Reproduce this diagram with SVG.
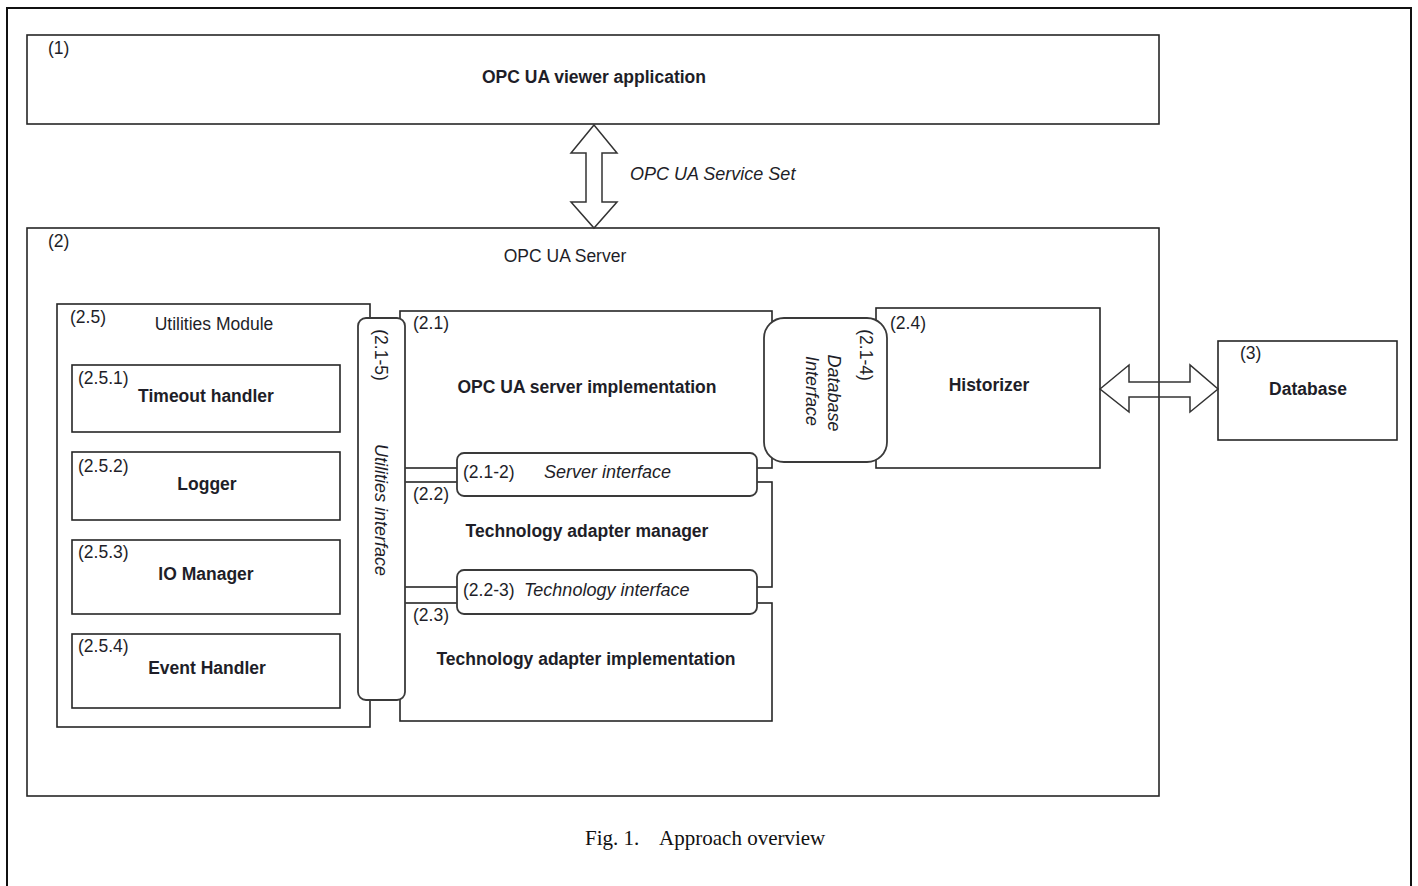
<svg xmlns="http://www.w3.org/2000/svg" width="1418" height="886" viewBox="0 0 1418 886">
  <style>
    .frame { fill: none; stroke: #111; stroke-width: 2; }
    .box { fill: #fff; stroke: #262626; stroke-width: 1.6; }
    .ifc { fill: #fff; stroke: #3a3a3a; stroke-width: 1.8; }
    .arrow { stroke: #333; stroke-width: 1.5; stroke-linejoin: miter; }
    text { font-family: "Liberation Sans", Arial, sans-serif; font-size: 17.5px; fill: #1e1e28; }
    .b { font-weight: bold; }
    .i { font-style: italic; font-size: 18px; }
    .c { text-anchor: middle; }
    .cap { font-family: "Liberation Serif", "Times New Roman", serif; font-size: 21px; fill: #111; }
  </style>

  <rect width="1418" height="886" fill="#fff"/>
  <!-- page frame -->
  <rect class="frame" x="7" y="8" width="1404" height="900"/>

  <!-- (1) viewer application -->
  <g id="viewer">
    <rect class="box" x="27" y="35" width="1132" height="89"/>
    <text x="48" y="54">(1)</text>
    <text class="b c" x="594" y="83">OPC UA viewer application</text>
  </g>

  <!-- (2) server container -->
  <g id="server">
    <rect class="box" x="27" y="228" width="1132" height="568"/>
    <text x="48" y="247">(2)</text>
    <text class="c" x="565" y="262">OPC UA Server</text>
  </g>

  <!-- (2.5) utilities module -->
  <g id="utilities">
    <rect class="box" x="57" y="304" width="313" height="423"/>
    <text x="70" y="323">(2.5)</text>
    <text class="c" x="214" y="330">Utilities Module</text>
  </g>
  <g id="timeout">
    <rect class="box" x="72" y="365" width="268" height="67"/>
    <text x="78" y="384">(2.5.1)</text>
    <text class="b c" x="206" y="402">Timeout handler</text>
  </g>
  <g id="logger">
    <rect class="box" x="72" y="452" width="268" height="68"/>
    <text x="78" y="472">(2.5.2)</text>
    <text class="b c" x="207" y="490">Logger</text>
  </g>
  <g id="io-manager">
    <rect class="box" x="72" y="540" width="268" height="74"/>
    <text x="78" y="558">(2.5.3)</text>
    <text class="b c" x="206" y="580">IO Manager</text>
  </g>
  <g id="event-handler">
    <rect class="box" x="72" y="634" width="268" height="74"/>
    <text x="78" y="652">(2.5.4)</text>
    <text class="b c" x="207" y="674">Event Handler</text>
  </g>

  <!-- (2.1) server implementation -->
  <g id="server-impl">
    <rect class="box" x="400" y="311" width="372" height="157"/>
    <text x="413" y="329">(2.1)</text>
    <text class="b c" x="587" y="393">OPC UA server implementation</text>
  </g>
  <!-- (2.2) adapter manager -->
  <g id="adapter-manager">
    <rect class="box" x="400" y="482" width="372" height="105"/>
    <text x="413" y="500">(2.2)</text>
    <text class="b c" x="587" y="537">Technology adapter manager</text>
  </g>
  <!-- (2.3) adapter implementation -->
  <g id="adapter-impl">
    <rect class="box" x="400" y="603" width="372" height="118"/>
    <text x="413" y="621">(2.3)</text>
    <text class="b c" x="586" y="665">Technology adapter implementation</text>
  </g>

  <!-- (2.4) historizer -->
  <g id="historizer">
    <rect class="box" x="876" y="308" width="224" height="160"/>
    <text x="890" y="329">(2.4)</text>
    <text class="b c" x="989" y="391">Historizer</text>
  </g>

  <!-- (3) database -->
  <g id="database">
    <rect class="box" x="1218" y="341" width="179" height="99"/>
    <text x="1240" y="359">(3)</text>
    <text class="b c" x="1308" y="395">Database</text>
  </g>

  <!-- interfaces -->
  <g id="server-interface">
    <rect class="ifc" x="457" y="453" width="300" height="43" rx="7"/>
    <text x="463" y="478">(2.1-2)</text>
    <text class="i" x="544" y="478">Server interface</text>
  </g>
  <g id="technology-interface">
    <rect class="ifc" x="457" y="570" width="300" height="44" rx="7"/>
    <text x="463" y="596">(2.2-3)</text>
    <text class="i" x="524" y="596">Technology interface</text>
  </g>
  <g id="utilities-interface">
    <rect class="ifc" x="358" y="318" width="47" height="382" rx="8"/>
    <text class="c" transform="translate(375,355) rotate(90)">(2.1-5)</text>
    <text class="i c" transform="translate(375,510) rotate(90)">Utilities interface</text>
  </g>
  <g id="database-interface">
    <rect class="ifc" x="764" y="318" width="123" height="144" rx="20"/>
    <text class="c" transform="translate(860,355) rotate(90)">(2.1-4)</text>
    <text class="i c" transform="translate(828,393) rotate(90)">Database</text>
    <text class="i c" transform="translate(806,391) rotate(90)">Interface</text>
  </g>

  <!-- connectors -->
  <g id="connectors">
    <polygon class="arrow" fill="#fff" points="594,125 617,153 602,153 602,202 617,202 594,228 571,202 586,202 586,153 571,153"/>
    <text class="i" x="630" y="180">OPC UA Service Set</text>
    <polygon class="arrow" fill="none" points="1100,389 1129,365 1129,382 1190,382 1190,365 1218,389 1190,412 1190,397 1129,397 1129,412"/>
  </g>

  <!-- caption -->
  <text class="cap" x="585" y="845" xml:space="preserve">Fig. 1.    Approach overview</text>
</svg>
